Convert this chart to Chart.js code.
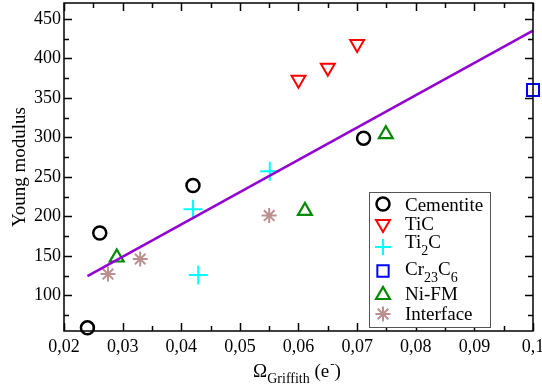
<!DOCTYPE html>
<html>
<head>
<meta charset="utf-8">
<script src="https://cdn.jsdelivr.net/npm/chart.js@4"></script>
<style>
html,body{margin:0;padding:0;background:#fff;overflow:hidden;}
#wrap{width:542px;height:387px;}
</style>
</head>
<body>
<div id="wrap"><canvas id="c" width="542" height="387"></canvas></div>
<script>
// ---- data ----
const cementiteX = [0.024, 0.0261, 0.042, 0.0711];
const cementiteY = [59, 179, 239, 299];
const ticX = [0.06, 0.065, 0.07];
const ticY = [373, 388, 418];
const ti2cX = [0.042, 0.0429, 0.0551];
const ti2cY = [209, 126, 257];
const cr23c6X = [0.1];
const cr23c6Y = [360];
const niFmX = [0.029, 0.0611, 0.0749];
const niFmY = [148, 207, 304];
const interfaceX = [0.0275, 0.033, 0.055];
const interfaceY = [127, 146, 201];
const fitX = [0.024, 0.1];
const fitY = [124.5, 435];

const xTicks = [0.02, 0.03, 0.04, 0.05, 0.06, 0.07, 0.08, 0.09, 0.1];
const xMinorTicks = [0.025, 0.035, 0.045, 0.055, 0.065, 0.075, 0.085, 0.095];
const yTicks = [100, 150, 200, 250, 300, 350, 400, 450];
const yMinorTicks = [75, 125, 175, 225, 275, 325, 375, 425];

const seriesNames = ['Cementite', 'TiC', 'Ti\u2082C', 'Cr\u2082\u2083C\u2086', 'Ni-FM', 'Interface'];

const pts = (xs, ys) => xs.map((x, i) => ({x, y: ys[i]}));
const SERIF = '"Liberation Serif", "Times New Roman", serif';

const markerDefs = [
  {label: seriesNames[0], data: pts(cementiteX, cementiteY), pointStyle: 'circle', pointRadius: 6.5, borderWidth: 2.5, color: '#000000', rotation: 0},
  {label: seriesNames[1], data: pts(ticX, ticY), pointStyle: 'triangle', pointRadius: 8, borderWidth: 2, color: '#ff0000', rotation: 180},
  {label: seriesNames[2], data: pts(ti2cX, ti2cY), pointStyle: 'cross', pointRadius: 9.5, borderWidth: 2, color: '#00ffff', rotation: 0},
  {label: seriesNames[3], data: pts(cr23c6X, cr23c6Y), pointStyle: 'rect', pointRadius: 8.5, borderWidth: 2, color: '#0000ff', rotation: 0},
  {label: seriesNames[4], data: pts(niFmX, niFmY), pointStyle: 'triangle', pointRadius: 8, borderWidth: 2.2, color: '#008a00', rotation: 0},
  {label: seriesNames[5], data: pts(interfaceX, interfaceY), pointStyle: 'star', pointRadius: 7.5, borderWidth: 2, color: '#bc8f8f', rotation: 0}
];

const datasets = [{
  type: 'line', label: 'fit', data: pts(fitX, fitY),
  borderColor: '#9400d3', borderWidth: 2.5, pointRadius: 0, fill: false, clip: false
}].concat(markerDefs.map(d => ({
  type: 'scatter', label: d.label, data: d.data,
  pointStyle: d.pointStyle, pointRadius: d.pointRadius, pointHoverRadius: d.pointRadius,
  pointRotation: d.rotation, borderColor: d.color, backgroundColor: 'rgba(0,0,0,0)',
  pointBorderWidth: d.borderWidth, borderWidth: d.borderWidth, clip: false
})));

// frame + inward ticks
const framePlugin = {
  id: 'frame',
  afterDatasetsDraw(chart) {
    const {ctx, chartArea: a, scales: {x, y}} = chart;
    ctx.save();
    ctx.strokeStyle = '#000';
    ctx.lineWidth = 1.5;
    ctx.strokeRect(a.left, a.top, a.right - a.left, a.bottom - a.top);
    ctx.lineWidth = 1.5;
    ctx.beginPath();
    const xt = (vals, len) => vals.forEach(v => {
      const px = Math.round(x.getPixelForValue(v)) + 0.5;
      ctx.moveTo(px, a.bottom); ctx.lineTo(px, a.bottom - len);
      ctx.moveTo(px, a.top); ctx.lineTo(px, a.top + len);
    });
    const yt = (vals, len) => vals.forEach(v => {
      const py = Math.round(y.getPixelForValue(v)) + 0.5;
      ctx.moveTo(a.left, py); ctx.lineTo(a.left + len, py);
      ctx.moveTo(a.right, py); ctx.lineTo(a.right - len, py);
    });
    xt(xTicks, 8); xt(xMinorTicks, 5);
    yt(yTicks, 8); yt(yMinorTicks, 5);
    ctx.stroke();
    ctx.restore();
  },
  afterDraw(chart) {
    const {ctx, chartArea: a} = chart;
    ctx.save();
    // x-axis title with subscript/superscript
    const cx = (a.left + a.right) / 2;
    const big = '19px ' + SERIF, small = '14px ' + SERIF, sup = '13px ' + SERIF;
    ctx.font = big; const wO = ctx.measureText('\u03A9').width;
    ctx.font = small; const wG = ctx.measureText('Griffith').width;
    ctx.font = big; const wP = ctx.measureText(' (e').width;
    ctx.font = sup; const wS = ctx.measureText('-').width;
    ctx.font = big; const wC = ctx.measureText(')').width;
    let x0 = cx - (wO + wG + wP + wS + wC) / 2 - 2;
    const base = 377;
    ctx.fillStyle = '#000'; ctx.textBaseline = 'alphabetic'; ctx.textAlign = 'left';
    ctx.font = big; ctx.fillText('\u03A9', x0, base); x0 += wO;
    ctx.font = small; ctx.fillText('Griffith', x0, base + 6); x0 += wG;
    ctx.font = big; ctx.fillText(' (e', x0, base); x0 += wP;
    ctx.font = sup; ctx.fillText('-', x0 + 1, base - 9); x0 += wS + 1;
    ctx.font = big; ctx.fillText(')', x0, base);

    // legend
    const L = {x: 369.5, y: 192.5, w: 121, h: 135};
    ctx.fillStyle = '#fff';
    ctx.fillRect(L.x, L.y, L.w, L.h);
    ctx.strokeStyle = '#555'; ctx.lineWidth = 1;
    ctx.strokeRect(L.x, L.y, L.w, L.h);
    const rows = [
      {my: 204, by: 210.5, parts: [['Cementite', 0]]},
      {my: 224, by: 230, parts: [['TiC', 0]]},
      {my: 247, by: 248, parts: [['Ti', 0], ['2', 1], ['C', 0]]},
      {my: 271, by: 275, parts: [['Cr', 0], ['23', 1], ['C', 0], ['6', 1]]},
      {my: 295, by: 300, parts: [['Ni-FM', 0]]},
      {my: 314, by: 320, parts: [['Interface', 0]]}
    ];
    rows.forEach((r, i) => {
      const d = markerDefs[i];
      ctx.strokeStyle = d.color; ctx.fillStyle = 'rgba(0,0,0,0)';
      ctx.lineWidth = d.borderWidth;
      Chart.helpers.drawPoint(ctx, {pointStyle: d.pointStyle, radius: Math.min(d.pointRadius, 8), rotation: d.rotation, borderWidth: d.borderWidth}, 383, r.my);
      let tx = 405;
      ctx.fillStyle = '#000';
      r.parts.forEach(([t, s]) => {
        ctx.font = s ? small : big;
        ctx.fillText(t, tx, r.by + (s ? 7 : 0));
        tx += ctx.measureText(t).width;
      });
    });
    ctx.restore();
  }
};

new Chart(document.getElementById('c'), {
  data: {datasets},
  options: {
    responsive: false,
    animation: false,
    devicePixelRatio: 1,
    layout: {autoPadding: false, padding: {top: 3, right: 9, bottom: 0, left: 0}},
    plugins: {legend: {display: false}, tooltip: {enabled: false}},
    scales: {
      x: {
        type: 'linear', min: 0.02, max: 0.1,
        grid: {display: false, drawTicks: false},
        border: {display: false},
        afterBuildTicks: s => { s.ticks = xTicks.map(v => ({value: v})); },
        afterFit: s => { s.height = 56; s.paddingLeft = 0; s.paddingRight = 0; },
        ticks: {
          padding: 5, color: '#000', maxRotation: 0, autoSkip: false,
          font: {family: SERIF, size: 18},
          callback: v => String(+v.toFixed(3)).replace('.', ',')
        }
      },
      y: {
        type: 'linear', min: 55, max: 470,
        grid: {display: false, drawTicks: false},
        border: {display: false},
        afterBuildTicks: s => { s.ticks = yTicks.map(v => ({value: v})); },
        afterFit: s => { s.width = 64; s.paddingTop = 0; s.paddingBottom = 0; },
        ticks: {padding: 3, color: '#000', font: {family: SERIF, size: 18}},
        title: {display: true, text: 'Young modulus', color: '#000', font: {family: SERIF, size: 19}, padding: {top: 9, bottom: 0}}
      }
    }
  },
  plugins: [framePlugin]
});
</script>
</body>
</html>
